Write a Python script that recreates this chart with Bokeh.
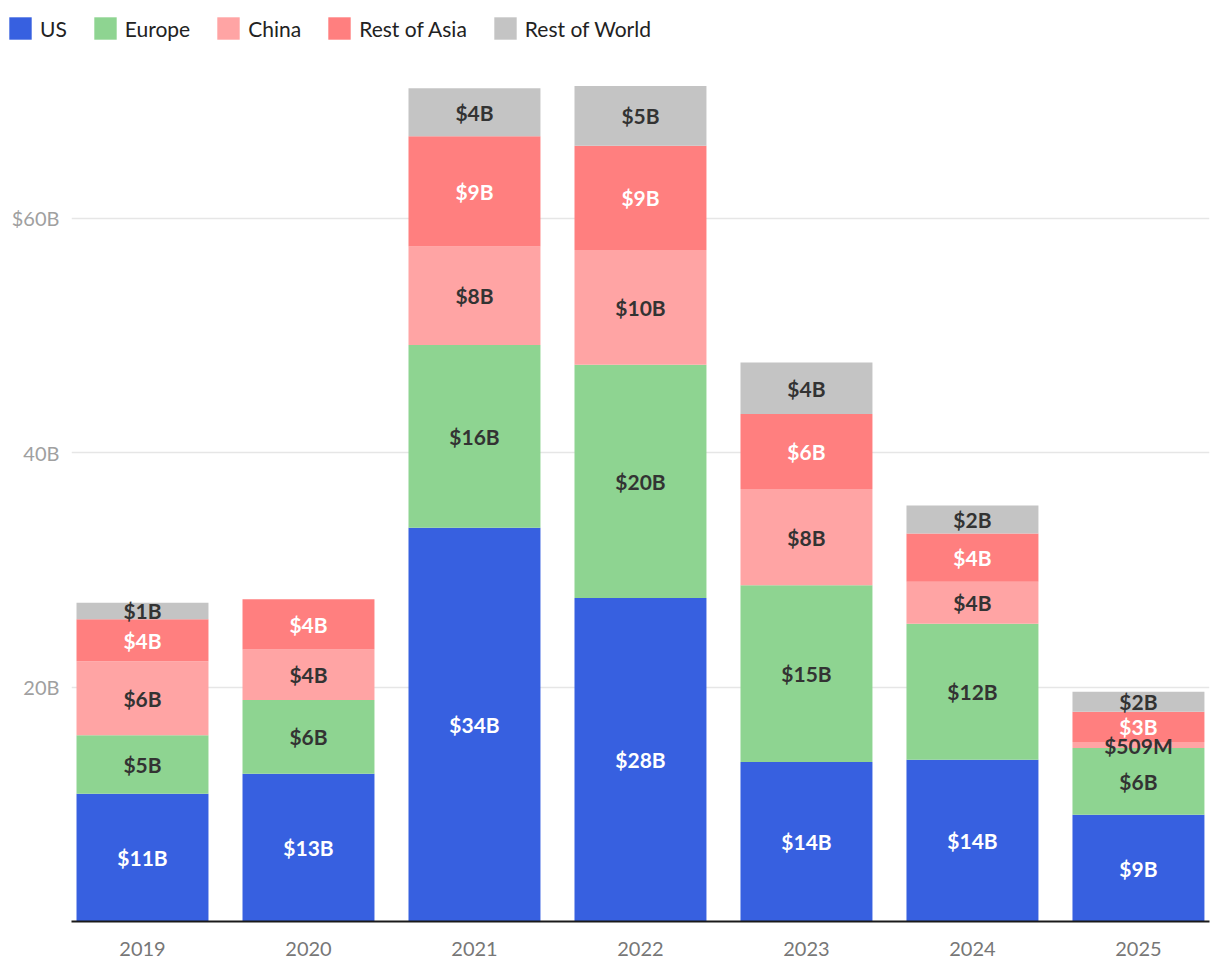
from bokeh.plotting import figure
from bokeh.layouts import column
from bokeh.models import Range1d, FixedTicker, ColumnDataSource, Legend, LegendItem
from bokeh.core.properties import value
from bokeh.embed import file_html
from bokeh.resources import INLINE
import numpy as np

years = ["2019", "2020", "2021", "2022", "2023", "2024", "2025"]
series_names = ["US", "Europe", "China", "Rest of Asia", "Rest of World"]
us = [10.9, 12.6, 33.6, 27.6, 13.6, 13.8, 9.1]
europe = [5.0, 6.3, 15.6, 19.9, 15.1, 11.6, 5.7]
china = [6.3, 4.3, 8.4, 9.8, 8.2, 3.6, 0.509]
rest_of_asia = [3.6, 4.3, 9.4, 8.9, 6.4, 4.1, 2.6]
rest_of_world = [1.4, 0.0, 4.1, 5.1, 4.4, 2.4, 1.7]
y_ticks = [0, 20, 40, 60]
y_tick_labels = ["", "20B", "40B", "$60B"]

colors = ["#3760E0", "#8ED491", "#FFA4A4", "#FF7F7F", "#C4C4C4"]
label_colors = ["white", "#333333", "#333333", "white", "#333333"]
FONT = "Lato"

series = [us, europe, china, rest_of_asia, rest_of_world]
keys = ["us", "europe", "china", "rest_of_asia", "rest_of_world"]
xs = list(range(len(years)))

data = {"x": xs}
for k, s in zip(keys, series):
    data[k] = s
source = ColumnDataSource(data)

# ---- legend strip (same stacked data, kept outside its visible ranges) ----
lg = figure(width=1211, height=62, output_backend="svg", toolbar_location=None,
            x_range=Range1d(1000, 1007), y_range=Range1d(1000, 1001),
            x_axis_location=None, y_axis_location=None,
            min_border_left=0, min_border_right=0, min_border_top=0, min_border_bottom=0)
lg.frame_align = False
lg.grid.grid_line_color = None
lg.outline_line_color = None
swatches = lg.vbar_stack(keys, x="x", width=0.795, color=colors, line_color=None,
                         line_width=0, source=source)
legend = Legend(items=[LegendItem(label=n, renderers=[r]) for n, r in zip(series_names, swatches)],
                orientation="horizontal", location=(6, 20), padding=0, margin=0,
                spacing=24, label_standoff=6, glyph_width=28, glyph_height=28,
                label_text_font=FONT, label_text_font_size="21px", label_text_color="#222222",
                border_line_color=None, background_fill_alpha=0)
lg.add_layout(legend, "center")

# ---- main chart ----
p = figure(width=1211, height=911, output_backend="svg", toolbar_location=None,
           x_range=Range1d(-0.4277, 6.428), y_range=Range1d(0, 73.3),
           min_border_left=71, min_border_right=2, min_border_top=0, min_border_bottom=52)
p.frame_align = False

p.vbar_stack(keys, x="x", width=0.795, color=colors, line_color=None,
             line_width=0, source=source)

lx, ly, lt, lc = [], [], [], []
arr = np.array(series)
cum = np.cumsum(arr, axis=0)
for si in range(len(series)):
    for xi in range(len(years)):
        v = arr[si, xi]
        if v <= 0:
            continue
        mid = cum[si, xi] - v / 2.0
        if v >= 1:
            t = "$%dB" % int(np.floor(v + 0.5))
        else:
            t = "$%dM" % int(round(v * 1000))
        lx.append(xs[xi]); ly.append(mid); lt.append(t); lc.append(label_colors[si])
lsrc = ColumnDataSource(dict(x=lx, y=ly, t=lt, c=lc))
p.text(x="x", y="y", text="t", text_color="c", source=lsrc, text_align="center",
       text_baseline="middle", text_font=value(FONT), text_font_style="bold",
       text_font_size="21px")

p.outline_line_color = None
p.xgrid.grid_line_color = None
p.ygrid.grid_line_color = "#e6e6e6"
p.ygrid.grid_line_width = 1.5
p.ygrid.ticker = FixedTicker(ticks=y_ticks)

p.yaxis.ticker = FixedTicker(ticks=y_ticks)
p.yaxis.major_label_overrides = {t: l for t, l in zip(y_ticks, y_tick_labels)}
p.yaxis.axis_line_color = None
p.yaxis.major_tick_line_color = None
p.yaxis.minor_tick_line_color = None
p.yaxis.major_label_standoff = 6
p.yaxis.major_label_text_font = FONT
p.yaxis.major_label_text_font_size = "20px"
p.yaxis.major_label_text_color = "#a0a0a0"

p.xaxis.ticker = FixedTicker(ticks=xs)
p.xaxis.major_label_overrides = {i: y for i, y in zip(xs, years)}
p.xaxis.axis_line_color = "#1a1a1a"
p.xaxis.axis_line_width = 2
p.xaxis.major_tick_line_color = None
p.xaxis.minor_tick_line_color = None
p.xaxis.major_label_standoff = 14
p.xaxis.major_label_text_font = FONT
p.xaxis.major_label_text_font_size = "20px"
p.xaxis.major_label_text_color = "#777777"

layout = column(lg, p, spacing=0)
open("out.html", "w").write(file_html(layout, INLINE))
